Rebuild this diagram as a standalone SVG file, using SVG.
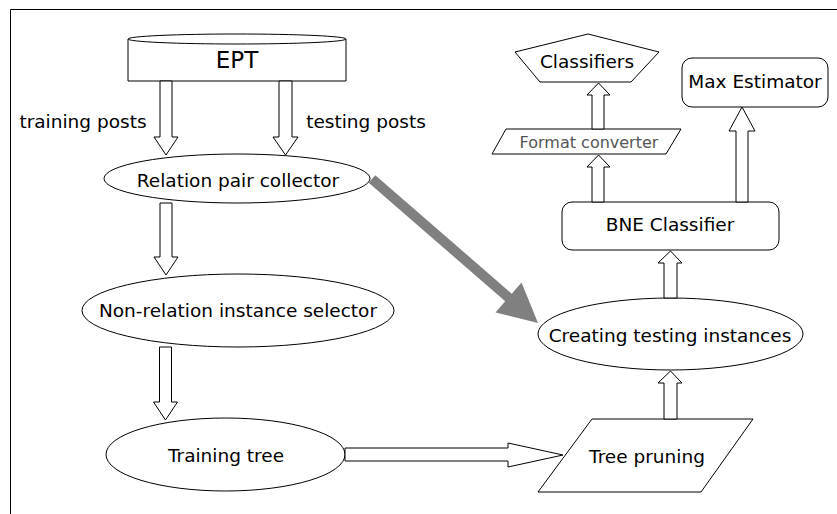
<svg xmlns="http://www.w3.org/2000/svg" width="837" height="514" viewBox="0 0 837 514">
<style>
.s{fill:#fff;stroke:#000;stroke-width:1}
.t{font-family:"DejaVu Sans",Verdana,sans-serif;font-size:18.5px;fill:#000;text-anchor:middle}
.ar{fill:#fff;stroke:#000;stroke-width:1;stroke-linejoin:miter}
</style>
<rect width="837" height="514" fill="#fff"/>
<path d="M10.5,514 L10.5,9.5 L837,9.5" fill="none" stroke="#000" stroke-width="1"/>

<g id="ept">
<path class="s" d="M128,39 L128,81 L346,81 L346,39"/>
<ellipse class="s" cx="237" cy="39" rx="109" ry="5"/>
<text class="t" x="237" y="68" style="font-size:23px">EPT</text>
</g>

<g id="labels">
<text class="t" x="83" y="128">training posts</text>
<text class="t" x="366" y="128">testing posts</text>
</g>

<g id="relation">
<ellipse class="s" cx="237" cy="178.5" rx="133" ry="24.5"/>
<text class="t" x="238" y="187">Relation pair collector</text>
</g>

<g id="nonrel">
<ellipse class="s" cx="238" cy="310.5" rx="156" ry="36.5"/>
<text class="t" x="238" y="317">Non-relation instance selector</text>
</g>

<g id="training">
<ellipse class="s" cx="225.5" cy="454.5" rx="119.5" ry="36.5"/>
<text class="t" x="226" y="462">Training tree</text>
</g>

<g id="pruning">
<polygon class="s" points="592,419 753,419 701,492 538,492"/>
<text class="t" x="647" y="463">Tree pruning</text>
</g>

<g id="creating">
<ellipse class="s" cx="670.5" cy="334" rx="132.5" ry="36"/>
<text class="t" x="670" y="342">Creating testing instances</text>
</g>

<g id="bne">
<rect class="s" x="562" y="202" width="217" height="48" rx="10" ry="10"/>
<text class="t" x="670" y="231">BNE Classifier</text>
</g>

<g id="format">
<polygon class="s" points="506,129 681,129 666,154 492,154"/>
<text class="t" x="589" y="148" style="font-size:16px;fill:#555">Format converter</text>
</g>

<g id="classifiers">
<polygon class="s" points="588,34 659,52 631,82 540,82 515,52"/>
<text class="t" x="587" y="68">Classifiers</text>
</g>

<g id="maxest">
<rect class="s" x="682" y="58" width="146" height="49" rx="10" ry="10"/>
<text class="t" x="755" y="88">Max Estimator</text>
</g>

<g id="connectors">
<polygon class="ar" points="160,81 172,81 172,137 178,137 166,155 154,137 160,137"/>
<polygon class="ar" points="279,81 292,81 292,137 298,137 285.5,155 273,137 279,137"/>
<polygon class="ar" points="160,203 172,203 172,257 178,257 166,275 154,257 160,257"/>
<polygon class="ar" points="159.5,347 171.5,347 171.5,402 177.5,402 165.5,420 153.5,402 159.5,402"/>
<polygon class="ar" points="345,448 508,448 508,443 563,455 508,467 508,461 345,461"/>
<polygon class="ar" points="664,419 677,419 677,383 682,383 670.5,371 658,383 664,383"/>
<polygon class="ar" points="664,298 677,298 677,263 682,263 670.5,251 658,263 664,263"/>
<polygon class="ar" points="592,202 604,202 604,167 610,167 598.5,155 587,167 592,167"/>
<polygon class="ar" points="592,129 604,129 604,95 610,95 598.5,83 587,95 592,95"/>
<polygon class="ar" points="736,202 748,202 748,131 755,131 742,107 729,131 736,131"/>
<polygon fill="#808080" points="375.3,175.2 511.8,293.7 521.5,282.6 538,323 495.5,312.4 505.2,301.3 368.7,182.8"/>
</g>
</svg>
